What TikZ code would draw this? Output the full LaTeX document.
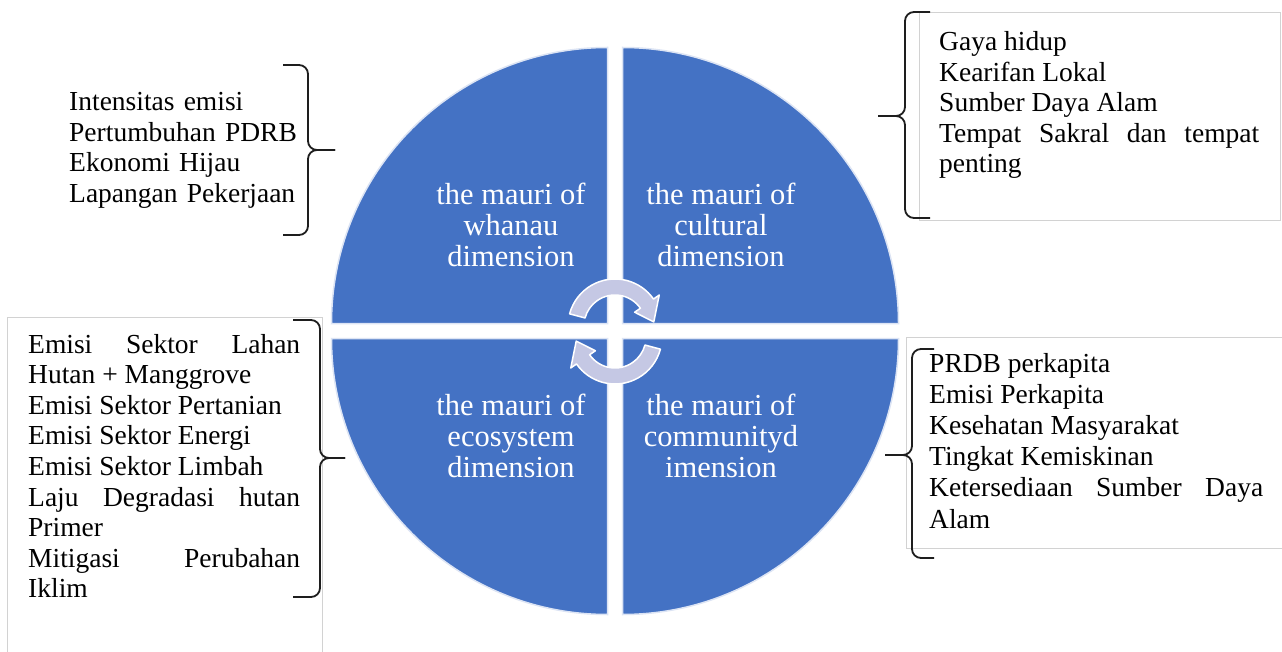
\documentclass[tikz,border=0pt]{standalone}
\usepackage{fontspec}
\setmainfont{Liberation Serif}
\usetikzlibrary{calc}
\definecolor{qblue}{HTML}{4472C4}
\definecolor{qedge}{HTML}{DCE4F4}
\definecolor{arrowfill}{HTML}{C5C8E4}
\definecolor{boxgray}{HTML}{D2D2D2}
\definecolor{bracecol}{HTML}{1E1E1E}
\hyphenpenalty=10000
\exhyphenpenalty=10000
\begin{document}
\begin{tikzpicture}[x=1pt,y=1pt,
  quad/.style={fill=qblue, draw=qedge, line width=1.5pt},
  qtext/.style={text=white, font=\fontsize{30.5}{31}\selectfont, align=center, inner sep=0pt, anchor=center},
  circarrow/.style={fill=arrowfill, draw=white, line width=1.5pt, line join=round},
  boxline/.style={draw=boxgray, line width=1pt},
  brace/.style={draw=bracecol, line width=1.8pt, rounded corners=9pt},
  boxtext/.style={font=\fontsize{27.5}{30.6}\selectfont, inner sep=0pt, anchor=base west, text=black}
]
\useasboundingbox (0,0) rectangle (1282,-652);
\fill[white] (0,0) rectangle (1282,-652);

% quadrants
\draw[quad] (607.5,-323.5) -- (331.5,-323.5) arc[start angle=180,end angle=90,radius=276] -- cycle;
\draw[quad] (622.5,-323.5) -- (622.5,-47.5) arc[start angle=90,end angle=0,radius=276] -- cycle;
\draw[quad] (607.5,-338.5) -- (331.5,-338.5) arc[start angle=180,end angle=270,radius=276] -- cycle;
\draw[quad] (622.5,-338.5) -- (898.5,-338.5) arc[start angle=0,end angle=-90,radius=276] -- cycle;

% circular arrows
\coordinate (ca) at (615,-326);
\coordinate (cb) at (615,-337);
\filldraw[circarrow] ([shift={(165:47)}]ca) arc[start angle=165,end angle=35,radius=47]
  -- ([shift={(35:54)}]ca) -- ([shift={(6:39)}]ca) -- ([shift={(35:24)}]ca)
  -- ([shift={(35:31)}]ca) arc[start angle=35,end angle=165,radius=31] -- cycle;
\filldraw[circarrow] ([shift={(-15:47)}]cb) arc[start angle=-15,end angle=-145,radius=47]
  -- ([shift={(-145:54)}]cb) -- ([shift={(-174:39)}]cb) -- ([shift={(-145:24)}]cb)
  -- ([shift={(-145:31)}]cb) arc[start angle=-145,end angle=-15,radius=31] -- cycle;

% quadrant labels
\node[qtext] (q1) at (511,-225) {the mauri of\\whanau\\dimension};
\node[qtext] (q2) at (721,-225) {the mauri of\\cultural\\dimension};
\node[qtext] (q3) at (511,-436) {the mauri of\\ecosystem\\dimension};
\node[qtext] (q4) at (721,-436) {the mauri of\\communityd\\imension};

% boxes
\draw[boxline] (919,-13) rectangle (1280,-221);
\draw[boxline] (7,-652) -- (7,-317) -- (322,-317) -- (322,-652);
\draw[boxline] (1282,-337) -- (906,-337) -- (906,-548) -- (1282,-548);

% braces
\draw[brace] (283,-65) -| (308,-150) -- (335,-150);
\draw[brace] (283,-235) -| (308,-150) -- (335,-150);
\draw[brace] (930,-12) -| (905,-116) -- (878,-116);
\draw[brace] (930,-218) -| (905,-116) -- (878,-116);
\draw[brace] (293,-320) -| (320,-458) -- (345,-458);
\draw[brace] (293,-597) -| (320,-458) -- (345,-458);
\draw[brace] (934,-349) -| (912,-455) -- (885,-455);
\draw[brace] (934,-558) -| (912,-455) -- (885,-455);

% texts
\node[boxtext, text width=260pt, align=left] (tl) at (69,-110.7)
  {Intensitas emisi\\Pertumbuhan PDRB\\Ekonomi Hijau\\Lapangan Pekerjaan};
\node[boxtext, text width=320pt, align=justify] (tr) at (939,-50.5)
  {Gaya hidup\par Kearifan Lokal\par Sumber Daya Alam\par Tempat Sakral dan tempat\linebreak penting};
\node[boxtext, text width=272pt, align=justify] (bl) at (28,-353)
  {Emisi Sektor Lahan\linebreak Hutan + Manggrove\par Emisi Sektor Pertanian\par Emisi Sektor Energi\par Emisi Sektor Limbah\par Laju Degradasi hutan\linebreak Primer\par Mitigasi Perubahan\linebreak Iklim};
\node[boxtext, text width=334pt, align=justify, font=\fontsize{27.5}{31.2}\selectfont] (br) at (929,-372)
  {PRDB perkapita\par Emisi Perkapita\par Kesehatan Masyarakat\par Tingkat Kemiskinan\par Ketersediaan Sumber Daya\linebreak Alam};
\end{tikzpicture}
\end{document}
